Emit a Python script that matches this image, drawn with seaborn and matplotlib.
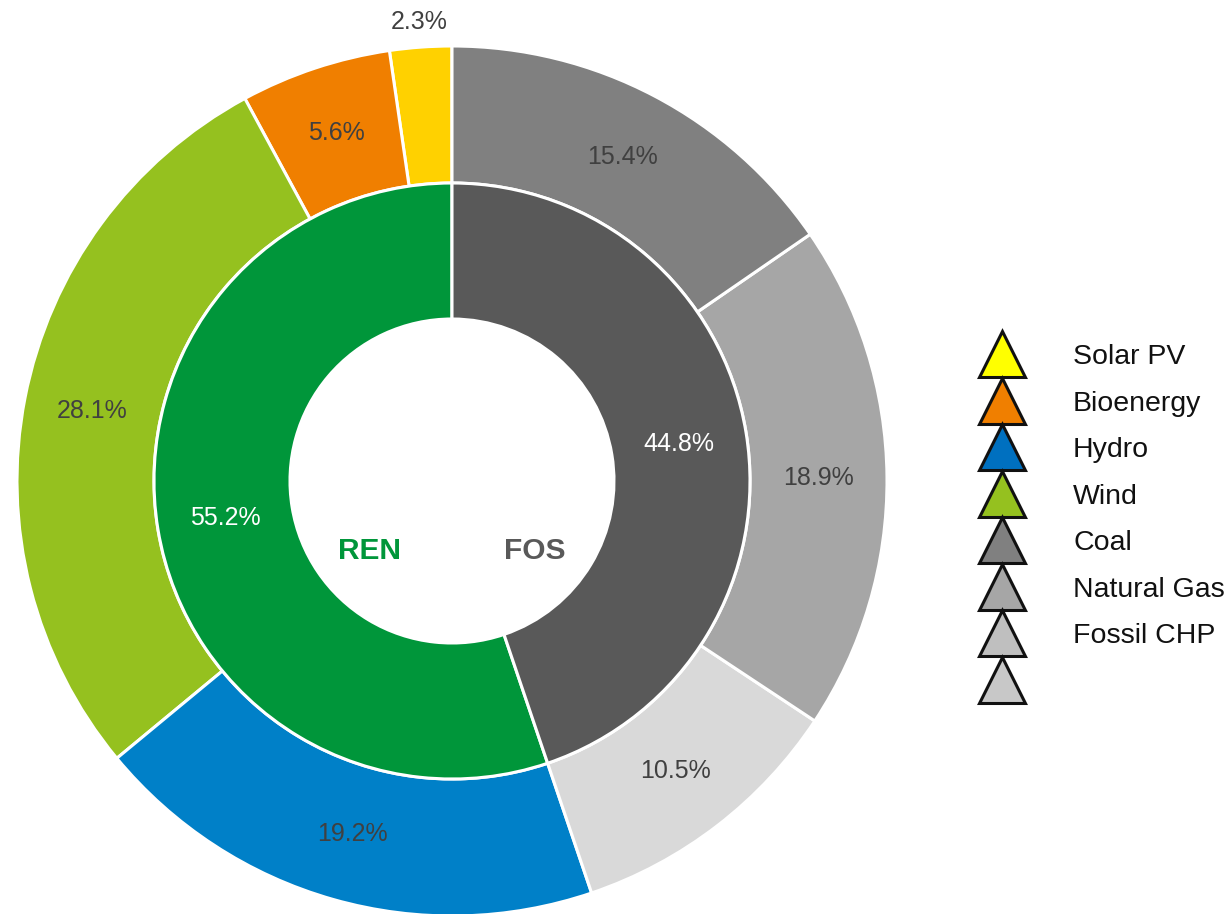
import matplotlib
matplotlib.use("Agg")
import matplotlib.pyplot as plt
import seaborn as sns
import numpy as np
from matplotlib.lines import Line2D

sns.set_theme(style="white")
plt.rcParams['font.family'] = ['Liberation Sans', 'DejaVu Sans']

# Outer ring (counterclockwise from 12 o'clock)
outer_values = [2.3, 5.6, 28.1, 19.2, 10.5, 18.9, 15.4]
outer_colors = ["#FFD100", "#F07F00", "#95C11F", "#0080C8", "#D9D9D9", "#A6A6A6", "#808080"]

# Inner ring
inner_labels = ["REN", "FOS"]
inner_values = [55.2, 44.8]
inner_colors = ["#00963A", "#595959"]

# Legend
legend_labels = ["Solar PV", "Bioenergy", "Hydro", "Wind", "Coal", "Natural Gas", "Fossil CHP", " "]
legend_colors = ["#FFFF00", "#F07F00", "#0070C0", "#95C11F", "#808080", "#A6A6A6", "#BFBFBF", "#C8C8C8"]

fig = plt.figure(figsize=(12.28, 9.14), dpi=100)
fig.patch.set_facecolor("white")
ax = fig.add_axes([17/1228, -2/914, 870/1228, 870/914])
ax.set_facecolor("white")

R_out = 1.0
R_mid = 298/435
R_in = 162/435

ow, ot = ax.pie(outer_values, colors=outer_colors, startangle=90, counterclock=True,
                radius=R_out, wedgeprops=dict(width=R_out - R_mid, edgecolor="white", linewidth=2.2))
iw, it = ax.pie(inner_values, colors=inner_colors, startangle=90, counterclock=True,
                radius=R_mid, wedgeprops=dict(width=R_mid - R_in, edgecolor="white", linewidth=2.2))

for w, v in zip(ow, outer_values):
    ang = np.deg2rad((w.theta1 + w.theta2) / 2)
    r = 1.058 if v < 3 else (R_out + R_mid) / 2
    ax.text(r*np.cos(ang), r*np.sin(ang), f"{v:.1f}%", ha="center", va="center",
            fontsize=18, color="#404040")

for w, v in zip(iw, inner_values):
    ang = np.deg2rad((w.theta1 + w.theta2) / 2)
    r = (R_mid + R_in) / 2
    ax.text(r*np.cos(ang), r*np.sin(ang), f"{v:.1f}%", ha="center", va="center",
            fontsize=18, color="white")

ax.text(-0.19, -0.16, inner_labels[0], ha="center", va="center", fontsize=21.5,
        fontweight="bold", color=inner_colors[0])
ax.text(0.19, -0.16, inner_labels[1], ha="center", va="center", fontsize=21.5,
        fontweight="bold", color=inner_colors[1])

ax.set_xlim(-1, 1)
ax.set_ylim(-1, 1)
ax.set_aspect("equal")
ax.axis("off")

handles = [Line2D([0], [0], marker="^", linestyle="none", markersize=33,
                  markerfacecolor=c, markeredgecolor="#111111", markeredgewidth=2.2)
           for c in legend_colors]
leg = fig.legend(handles, legend_labels, loc="upper left", bbox_to_anchor=(962/1228, 1 - 333/914),
                 frameon=False, fontsize=20.5, labelspacing=0.72, handletextpad=1.5,
                 handlelength=2.0, borderaxespad=0)
for t in leg.get_texts():
    t.set_color("#111111")

fig.savefig("out.png", dpi=100, facecolor="white")
